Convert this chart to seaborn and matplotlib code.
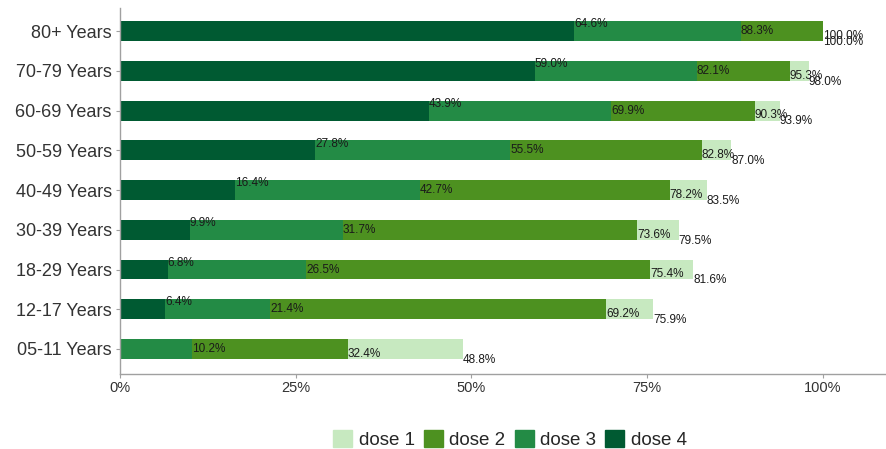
import pandas as pd
import matplotlib.pyplot as plt
import seaborn as sns
from matplotlib.patches import Patch

# age groups, top to bottom
ages = ["80+ Years", "70-79 Years", "60-69 Years", "50-59 Years", "40-49 Years",
        "30-39 Years", "18-29 Years", "12-17 Years", "05-11 Years"]

# coverage (%) per dose, same order as ages (None = no data)
dose1 = [100.0, 98.0, 93.9, 87.0, 83.5, 79.5, 81.6, 75.9, 48.8]
dose2 = [100.0, 95.3, 90.3, 82.8, 78.2, 73.6, 75.4, 69.2, 32.4]
dose3 = [88.3, 82.1, 69.9, 55.5, 42.7, 31.7, 26.5, 21.4, 10.2]
dose4 = [64.6, 59.0, 43.9, 27.8, 16.4, 9.9, 6.8, 6.4, None]

doses = ["dose 1", "dose 2", "dose 3", "dose 4"]
colors = {"dose 1": "#c7e9c0", "dose 2": "#4d9120", "dose 3": "#238b45", "dose 4": "#005a32"}
label_shift = {"dose 1": 0.27, "dose 2": 0.12, "dose 3": 0.0, "dose 4": -0.17}

rows = []
for d, vals in zip(doses, [dose1, dose2, dose3, dose4]):
    for a, v in zip(ages, vals):
        if v is not None:
            rows.append({"age": a, "dose": d, "value": v})
df = pd.DataFrame(rows)

sns.set_style("white")
plt.rcParams['font.family'] = ['Liberation Sans', 'DejaVu Sans']

fig = plt.figure(figsize=(8.87, 4.49), dpi=100)
ax = fig.add_axes([0.1353, 0.167, 0.8636, 0.815])

# overlapping bars, longest first so shorter ones sit on top
for d in doses:
    sub = df[df["dose"] == d]
    sns.barplot(data=sub, x="value", y="age", order=ages, color=colors[d],
                width=0.5, orient="h", ax=ax, saturation=1, errorbar=None,
                linewidth=0)

# value labels at the end of each bar
pos = {a: i for i, a in enumerate(ages)}
for _, r in df.iterrows():
    ax.text(r["value"], pos[r["age"]] + label_shift[r["dose"]], f"{r['value']:.1f}%",
            ha="left", va="center", fontsize=8.5, color="#1a1a1a")

ax.set_xlim(0, 109)
ax.set_ylim(len(ages) - 1 + 0.63, -0.58)
ax.set_xticks([0, 25, 50, 75, 100])
ax.set_xticklabels(["0%", "25%", "50%", "75%", "100%"])
ax.set_xlabel("")
ax.set_ylabel("")
ax.tick_params(axis="y", labelsize=13, length=3, width=0.8, left=True, color="#a0a0a0", pad=3)
ax.tick_params(axis="x", labelsize=10.5, length=3, width=0.8, bottom=True, color="#a0a0a0", pad=2)
for lab in ax.get_xticklabels() + ax.get_yticklabels():
    lab.set_color("#333333")
sns.despine(ax=ax)
for s in ["left", "bottom"]:
    ax.spines[s].set_color("#a0a0a0")
    ax.spines[s].set_linewidth(1.0)

handles = [Patch(color=colors[d], label=d) for d in doses]
fig.legend(handles=handles, loc="lower center", bbox_to_anchor=(0.575, -0.038), ncol=4,
           frameon=False, fontsize=13.5, handlelength=1.0, handleheight=1.0,
           handletextpad=0.35, columnspacing=0.5)

fig.savefig("out.png", dpi=100)
